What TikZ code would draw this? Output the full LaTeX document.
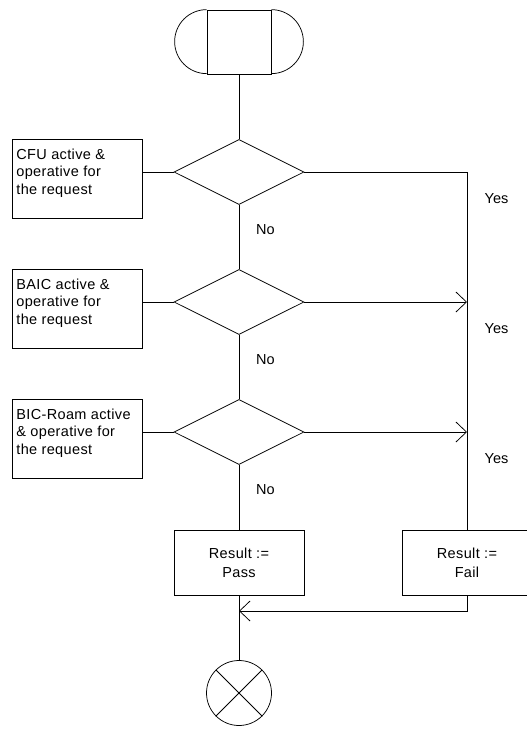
\documentclass[tikz,border=0pt]{standalone}
\usepackage{fontspec}
\setmainfont{Liberation Sans}
\newfontfamily\boxfont[LetterSpace=2.5]{Liberation Sans}
\usetikzlibrary{shapes.geometric,arrows.meta}
\begin{document}
\begin{tikzpicture}[x=1pt,y=-1pt,
  line width=0.75pt,
  every node/.style={font=\fontsize{14.5}{17.5}\selectfont},
  condbox/.style={draw, rectangle, minimum width=130pt, minimum height=79pt, inner sep=0pt, anchor=north west},
  condtext/.style={align=left, inner sep=0pt, anchor=north west, font=\boxfont\fontsize{14.5}{17.5}\selectfont},
  dec/.style={draw, diamond, aspect=2, minimum width=130pt, minimum height=65pt, inner sep=0pt},
  resbox/.style={draw, rectangle, minimum width=130pt, minimum height=65pt, inner sep=0pt, align=center, font=\boxfont\fontsize{14.5}{19}\selectfont},
  lbl/.style={inner sep=0pt},
  arr/.style={-{Straight Barb[length=10.5pt, width=20pt]}}
]
\useasboundingbox (0,0) rectangle (527,729);
\clip (0,0) rectangle (527,729);
\fill[white] (0,0) rectangle (527,729);

% start terminator
\node[draw, rectangle, minimum width=64pt, minimum height=64pt, inner sep=0pt] (s) at (239,42) {};
\draw (s.north west) arc[start angle=90, end angle=270, radius=32pt];
\draw (s.north east) arc[start angle=90, end angle=-90, radius=32pt];

% condition boxes
\node[condbox] (c1) at (12,139) {};
\node[condtext] (t1) at (16,148.5) {CFU active \&\\operative for\\the request};
\node[condbox] (c2) at (12,269) {};
\node[condtext] (t2) at (16,278.5) {BAIC active \&\\operative for\\the request};
\node[condbox] (c3) at (12,399) {};
\node[condtext] (t3) at (16,408.5) {BIC-Roam active\\\& operative for\\the request};

% decisions
\node[dec] (d1) at (239,172) {};
\node[dec] (d2) at (239,302) {};
\node[dec] (d3) at (239,432) {};

% results
\node[resbox] (p) at (239,562.5) {Result :=\\Pass};
\node[resbox] (f) at (467,562.5) {Result :=\\Fail};

% end
\node[draw, circle, minimum size=65pt, inner sep=0pt] (e) at (239,693) {};
\draw (e.north west) -- (e.south east);
\draw (e.north east) -- (e.south west);

\coordinate (m) at (239,611);

% connectors
\draw (s.south) -- (d1.north);
\draw (d1.west) -- (d1.west -| c1.east);
\draw (d2.west) -- (d2.west -| c2.east);
\draw (d3.west) -- (d3.west -| c3.east);
\draw (d1.south) -- (d2.north);
\draw (d2.south) -- (d3.north);
\draw (d3.south) -- (p.north);
\draw (d1.east) -- (d1.east -| f.north) -- (f.north);
\draw[arr] (d2.east) -- (d2.east -| f.north);
\draw[arr] (d3.east) -- (d3.east -| f.north);
\draw[arr] (f.south) |- (m);
\draw (p.south) -- (e.north);

% labels
\node[lbl] (y1) at (496.5,199) {Yes};
\node[lbl] (y2) at (496.5,329) {Yes};
\node[lbl] (y3) at (496.5,459) {Yes};
\node[lbl] (n1) at (265.5,230) {No};
\node[lbl] (n2) at (265.5,360) {No};
\node[lbl] (n3) at (265.5,490) {No};
\end{tikzpicture}
\end{document}
